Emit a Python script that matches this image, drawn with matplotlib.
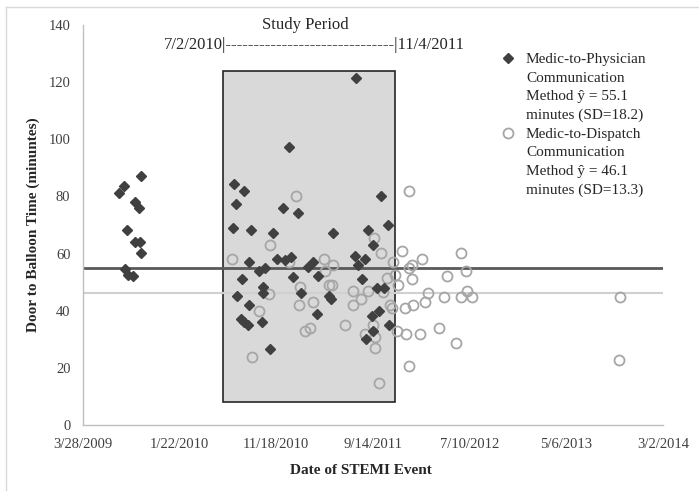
import datetime as dt

import matplotlib
matplotlib.use("Agg")
import matplotlib.pyplot as plt
from matplotlib.lines import Line2D
from matplotlib.patches import Rectangle
from matplotlib.ticker import FuncFormatter, MultipleLocator

plt.rcParams["font.family"] = ["Liberation Serif", "DejaVu Serif"]

# x values are Excel serial dates (39900 = 3/28/2009)
physician_dates = [
    40026, 40013, 40080, 40061, 40073, 40038, 40061, 40076, 40080, 40030,
    40039, 40054,
    40539, 40370, 40401, 40375, 40521, 40567, 40367, 40422, 40491, 40416,
    40502, 40526, 40545, 40445, 40466, 40597, 40394, 40553, 40459, 40378,
    40460, 40577, 40416, 40390, 40401, 40413, 40457, 40479, 40614, 40629,
    40626, 40662, 40670, 40677, 40748, 40825, 40845, 40784, 40800, 40743,
    40774, 40753, 40766, 40812, 40835, 40797, 40820, 40851, 40801, 40778,
]
physician_minutes = [
    83.7, 81.1, 87.3, 78.2, 76.1, 68.3, 64.2, 64.2, 60.1, 54.5,
    52.5, 52.2,
    97.3, 84.4, 82.0, 77.2, 76.1, 74.1, 69.1, 68.1, 67.1, 57.2,
    58.1, 57.8, 58.9, 54.0, 55.1, 55.4, 51.0, 51.9, 48.2, 45.2,
    46.1, 46.1, 42.0, 37.0, 36.0, 35.0, 35.9, 26.7, 57.0, 52.0,
    39.0, 45.0, 44.0, 67.1, 121.3, 80.3, 70.0, 68.3, 63.0, 59.2,
    58.1, 56.0, 51.0, 48.1, 48.1, 38.2, 40.0, 35.0, 33.0, 30.0,
]

dispatch_dates = [
    40561, 40479, 40363, 40538, 40478, 40572, 40447, 40425, 40571, 40590,
    40605, 40615, 40649, 40652, 40677, 40662, 40673, 40714, 40738, 40739,
    40804, 40825, 40862, 40890, 40921, 40953, 40913, 40869, 40843, 40879,
    40921, 41072, 41031, 41088, 40972, 41021, 41072, 41091, 41108, 40762,
    40786, 40831, 40853, 40859, 40900, 40925, 40962, 40776, 40801, 40805,
    40807, 40876, 40902, 40946, 41005, 41058, 40913, 40820, 41566, 41564,
    40913,
]
dispatch_minutes = [
    80.2, 63.0, 58.1, 57.2, 45.9, 48.2, 39.9, 23.8, 42.0, 32.9,
    33.8, 43.0, 58.0, 54.0, 56.0, 49.0, 49.0, 35.0, 42.0, 47.0,
    65.3, 60.1, 57.2, 60.9, 56.0, 58.0, 55.1, 52.5, 51.3, 49.0,
    51.0, 60.1, 52.2, 54.0, 46.1, 44.9, 44.9, 47.0, 44.9, 44.0,
    47.0, 46.7, 42.0, 40.8, 40.8, 42.0, 43.2, 31.9, 35.0, 30.7,
    27.1, 33.0, 31.7, 31.7, 33.8, 28.8, 20.8, 14.8, 44.9, 22.8,
    82.0,
]

physician_mean = 55.1
dispatch_mean = 46.1

# shaded study-period box as drawn in the source chart
study_box_dates = [40334, 40868]
study_box_minutes = [8, 124]

legend_labels = [
    "Medic-to-Physician\nCommunication\nMethod \u0177 = 55.1\nminutes (SD=18.2)",
    "Medic-to-Dispatch\nCommunication\nMethod \u0177 = 46.1\nminutes (SD=13.3)",
]

W, H = 699, 491
fig = plt.figure(figsize=(W / 100, H / 100), dpi=100)
ax = fig.add_axes([83 / W, 66 / H, 580 / W, 400 / H])

ax.add_patch(Rectangle(
    (study_box_dates[0], study_box_minutes[0]),
    study_box_dates[1] - study_box_dates[0],
    study_box_minutes[1] - study_box_minutes[0],
    facecolor="#d9d9d9", edgecolor="#262626", linewidth=1.2, zorder=1,
))

ax.axhline(physician_mean, color="#595959", linewidth=2.0, zorder=2)
ax.axhline(dispatch_mean, color="#d0d0d0", linewidth=1.5, zorder=2)

ax.plot(physician_dates, physician_minutes, linestyle="none", marker="D",
        markersize=5.2, color="#404040", zorder=4)
ax.plot(dispatch_dates, dispatch_minutes, linestyle="none", marker="o",
        markersize=7.2, markerfacecolor="none", markeredgecolor="#a6a6a6",
        markeredgewidth=1.3, zorder=3)

ax.set_xlim(39900, 41700)
ax.set_ylim(0, 140)
ax.xaxis.set_major_locator(MultipleLocator(300))
ax.yaxis.set_major_locator(MultipleLocator(20))

excel_epoch = dt.date(1899, 12, 30)


def serial_to_label(value, pos):
    d = excel_epoch + dt.timedelta(days=int(round(value)))
    return f"{d.month}/{d.day}/{d.year}"


ax.xaxis.set_major_formatter(FuncFormatter(serial_to_label))
ax.tick_params(axis="both", length=0, labelsize=10.5, colors="#404040")
ax.tick_params(axis="y", pad=9)
ax.tick_params(axis="x", pad=9)

for side in ("top", "right"):
    ax.spines[side].set_visible(False)
for side in ("left", "bottom"):
    ax.spines[side].set_color("#bfbfbf")
    ax.spines[side].set_linewidth(1.0)

ax.text(0.384, 1.0, "Study Period", transform=ax.transAxes, ha="center",
        va="center", fontsize=12, color="#262626")
ax.text(0.398, 0.95, "7/2/2010|" + "-" * 30 + "|11/4/2011",
        transform=ax.transAxes, ha="center", va="center", fontsize=12,
        color="#262626")

fig.text(33 / W, 1 - 225 / H, "Door to Balloon Time (minuntes)",
         rotation=90, ha="center", va="center", fontsize=11,
         fontweight="bold", color="#262626")
fig.text(361 / W, 1 - 470 / H, "Date of STEMI Event", ha="center",
         va="center", fontsize=11, fontweight="bold", color="#262626")

# legend drawn by hand so the marker sits on the first text line
legend_tops = [53, 128]
fig.add_artist(Line2D([508 / W], [1 - 58 / H], marker="D", markersize=5.2,
                      color="#404040", linestyle="none"))
fig.add_artist(Line2D([508 / W], [1 - 133 / H], marker="o", markersize=7.2,
                      markerfacecolor="none", markeredgecolor="#a6a6a6",
                      markeredgewidth=1.3, linestyle="none"))
for top, label in zip(legend_tops, legend_labels):
    fig.text(526 / W, 1 - top / H, label, ha="left", va="top", fontsize=11,
             linespacing=1.55, color="#262626")

# outer chart border (top and left only are visible in the crop)
fig.add_artist(Line2D([6 / W, 6 / W], [0, 1 - 7 / H], color="#d9d9d9",
                      linewidth=1.0))
fig.add_artist(Line2D([6 / W, 1], [1 - 7 / H, 1 - 7 / H], color="#d9d9d9",
                      linewidth=1.0))

fig.savefig("out.png", dpi=100)
